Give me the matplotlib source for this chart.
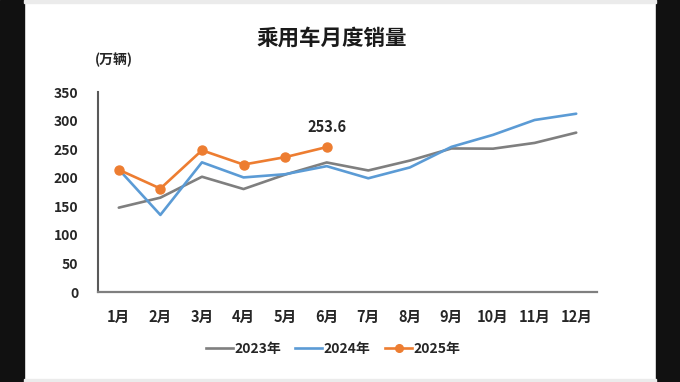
import matplotlib
matplotlib.use("Agg")
import matplotlib.pyplot as plt
from matplotlib.patches import Rectangle
from matplotlib.lines import Line2D

plt.rcParams['font.family'] = ['Noto Sans CJK SC', 'DejaVu Sans']

months = ["1月", "2月", "3月", "4月", "5月", "6月", "7月", "8月", "9月", "10月", "11月", "12月"]
sales_2023 = [147.6, 165.1, 201.7, 180.2, 205.4, 226.7, 212.7, 230.0, 251.2, 250.8, 260.9, 278.9]
sales_2024 = [214.5, 134.9, 226.9, 200.5, 206.1, 220.2, 199.0, 218.0, 254.0, 275.0, 301.0, 312.0]
sales_2025 = [214.0, 181.0, 248.0, 223.0, 236.0, 253.6]
yticks = [0, 50, 100, 150, 200, 250, 300, 350]

W, H = 680, 382
fig = plt.figure(figsize=(W / 100, H / 100), dpi=100)
fig.patch.set_facecolor('white')

# frame bars
fig.patches.append(Rectangle((0, 0), 24 / W, 1, transform=fig.transFigure, color='#111111', zorder=0))
fig.patches.append(Rectangle((656 / W, 0), 24 / W, 1, transform=fig.transFigure, color='#111111', zorder=0))
fig.patches.append(Rectangle((24 / W, 1 - 3 / H), 632 / W, 3 / H, transform=fig.transFigure, color='#ebebeb', zorder=0))
fig.patches.append(Rectangle((24 / W, 0), 632 / W, 3 / H, transform=fig.transFigure, color='#ebebeb', zorder=0))

ax = fig.add_axes([98 / W, (H - 292) / H, 499 / W, 200 / H])
ax.set_facecolor('none')
x = list(range(len(months)))
c23, c24, c25 = '#7f7f7f', '#5b9bd5', '#ed7d31'
ax.plot(x, sales_2023, color=c23, lw=1.9, solid_capstyle='round', zorder=3)
ax.plot(x, sales_2024, color=c24, lw=1.9, solid_capstyle='round', zorder=3)
ax.plot(x[:len(sales_2025)], sales_2025, color=c25, lw=1.9, marker='o', ms=6.5, zorder=4)

ax.set_xlim(-0.5, 11.5)
ax.set_ylim(0, 350)
for s in ['top', 'right']:
    ax.spines[s].set_visible(False)
ax.spines['left'].set_color('#595959')
ax.spines['bottom'].set_color('#7f7f7f')
ax.spines['left'].set_linewidth(1.5)
ax.spines['bottom'].set_linewidth(1.6)
ax.set_yticks(yticks)
ax.set_yticklabels([str(v) for v in yticks], fontsize=10, fontweight='bold', color='#262626')
ax.set_xticks(x)
ax.set_xticklabels(months, fontsize=10.5, fontweight='bold', color='#262626')
ax.tick_params(axis='both', length=0)
ax.tick_params(axis='y', pad=14)
ax.tick_params(axis='x', pad=12)

ax.annotate(f"{sales_2025[-1]:.1f}", (5, sales_2025[-1]), xytext=(0, 9), textcoords='offset points',
            ha='center', va='bottom', fontsize=10.5, fontweight='bold', color='#262626')

fig.text(332 / W, 1 - 38 / H, "乘用车月度销量", ha='center', va='center', fontsize=15.5, fontweight='bold', color='#1a1a1a')
fig.text(114 / W, 1 - 60 / H, "(万辆)", ha='center', va='center', fontsize=10, fontweight='bold', color='#262626')

handles = [Line2D([], [], color=c23, lw=1.9),
           Line2D([], [], color=c24, lw=1.9),
           Line2D([], [], color=c25, lw=1.9, marker='o', ms=5.5)]
fig.legend(handles, ["2023年", "2024年", "2025年"], loc='center', bbox_to_anchor=(333 / W, 1 - 349 / H),
           ncol=3, frameon=False, prop={'size': 10, 'weight': 'bold'}, handlelength=1.95, handletextpad=0.1,
           columnspacing=1.05, labelcolor='#262626')

fig.savefig('out.png', dpi=100)
